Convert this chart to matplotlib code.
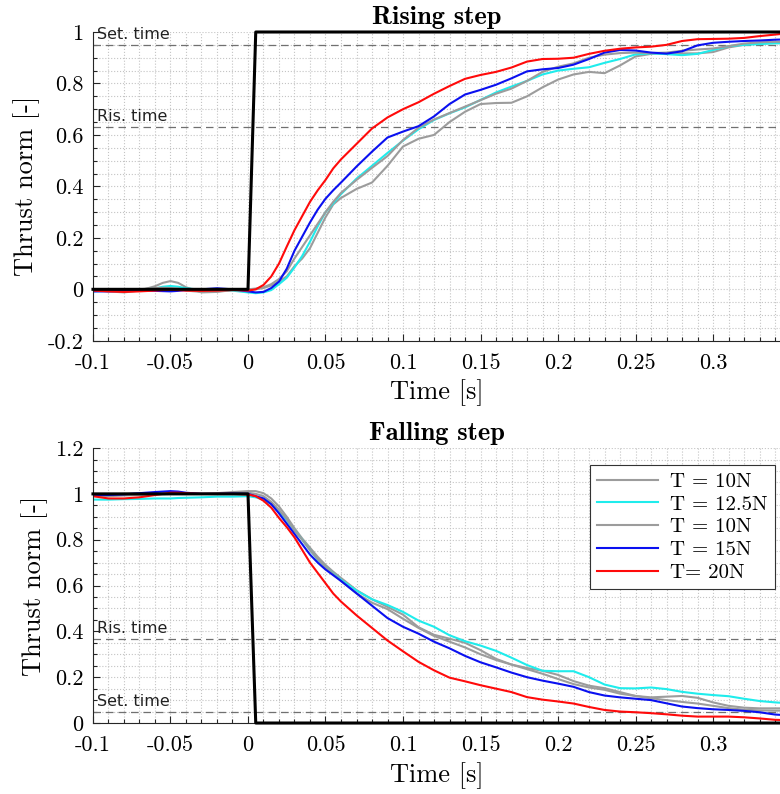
import matplotlib
matplotlib.use('Agg')
import matplotlib.pyplot as plt
from matplotlib.ticker import MultipleLocator

plt.rcParams['axes.unicode_minus'] = False

# Time base shared by all measured curves [s]
t = [-0.1, -0.09, -0.08, -0.07, -0.06, -0.055, -0.05, -0.045, -0.04, -0.03, -0.02, -0.01,
     0, 0.005, 0.01, 0.015, 0.02, 0.025, 0.03, 0.035, 0.04, 0.045, 0.05, 0.055, 0.06,
     0.07, 0.08, 0.09, 0.1, 0.11, 0.12, 0.13, 0.14, 0.15, 0.16, 0.17, 0.18, 0.19, 0.2,
     0.21, 0.22, 0.23, 0.24, 0.25, 0.26, 0.27, 0.28, 0.29, 0.3, 0.31, 0.32, 0.33, 0.34, 0.345]

# Commanded steps
step_t = [-0.1, 0, 0.005, 0.345]
rise_cmd = [0, 0, 1, 1]
fall_cmd = [1, 1, 0, 0]

# Rising step responses
rise_gray_a = [-0.003, -0.008, -0.012, -0.005, 0.012, 0.025, 0.032, 0.025, 0.008, -0.012, -0.01, -0.003,
               0.0, 0.0, 0.005, 0.015, 0.03, 0.05, 0.09, 0.12, 0.16, 0.22, 0.28, 0.33, 0.355,
               0.39, 0.415, 0.48, 0.555, 0.585, 0.6, 0.65, 0.69, 0.72, 0.724, 0.725, 0.75, 0.785, 0.815,
               0.835, 0.845, 0.84, 0.87, 0.905, 0.915, 0.917, 0.917, 0.917, 0.922, 0.94, 0.95, 0.956, 0.957, 0.957]
rise_cyan = [-0.008, -0.006, -0.004, -0.002, 0.003, 0.01, 0.013, 0.01, 0.004, -0.002, -0.004, -0.005,
             -0.012, -0.015, -0.012, -0.003, 0.02, 0.045, 0.085, 0.13, 0.185, 0.245, 0.3, 0.334, 0.37,
             0.43, 0.48, 0.53, 0.578, 0.622, 0.658, 0.684, 0.707, 0.736, 0.765, 0.788, 0.81, 0.835, 0.85,
             0.857, 0.863, 0.88, 0.895, 0.913, 0.917, 0.914, 0.91, 0.915, 0.93, 0.945, 0.95, 0.953, 0.956, 0.956]
rise_gray_b = [0.0, -0.003, -0.005, 0.0, 0.005, 0.006, 0.005, 0.003, -0.005, -0.01, -0.008, -0.003,
               0.0, 0.003, 0.008, 0.02, 0.04, 0.07, 0.12, 0.165, 0.21, 0.255, 0.3, 0.34, 0.375,
               0.425, 0.472, 0.518, 0.58, 0.628, 0.66, 0.685, 0.71, 0.735, 0.76, 0.78, 0.81, 0.845, 0.865,
               0.878, 0.9, 0.912, 0.918, 0.92, 0.918, 0.92, 0.927, 0.932, 0.936, 0.945, 0.955, 0.96, 0.962, 0.962]
rise_blue = [-0.008, -0.008, -0.006, -0.005, -0.006, -0.007, -0.008, -0.006, -0.003, 0.0, 0.004, 0.0,
             -0.008, -0.012, -0.01, 0.005, 0.03, 0.08, 0.15, 0.205, 0.26, 0.31, 0.352, 0.385, 0.415,
             0.477, 0.535, 0.59, 0.613, 0.634, 0.672, 0.72, 0.757, 0.775, 0.795, 0.82, 0.847, 0.855, 0.86,
             0.873, 0.895, 0.92, 0.93, 0.928, 0.92, 0.916, 0.925, 0.948, 0.958, 0.962, 0.965, 0.967, 0.97, 0.971]
rise_red = [-0.005, -0.008, -0.01, -0.008, -0.005, -0.003, -0.002, -0.003, -0.005, -0.006, -0.005, -0.003,
            -0.005, 0.0, 0.017, 0.05, 0.1, 0.166, 0.23, 0.285, 0.34, 0.385, 0.425, 0.47, 0.505,
            0.565, 0.625, 0.668, 0.7, 0.727, 0.76, 0.79, 0.818, 0.833, 0.845, 0.862, 0.885, 0.895, 0.896,
            0.9, 0.915, 0.927, 0.935, 0.94, 0.943, 0.95, 0.965, 0.972, 0.973, 0.974, 0.977, 0.984, 0.99, 0.993]

# Falling step responses
fall_gray_a = [0.995, 0.998, 1.0, 1.002, 1.0, 1.0, 1.0, 1.0, 1.0, 1.0, 1.003, 1.008,
               1.012, 1.012, 1.003, 0.98, 0.945, 0.9, 0.85, 0.805, 0.765, 0.725, 0.69, 0.66, 0.633,
               0.58, 0.54, 0.507, 0.473, 0.418, 0.385, 0.368, 0.35, 0.318, 0.28, 0.255, 0.24, 0.228, 0.21,
               0.183, 0.163, 0.152, 0.135, 0.118, 0.112, 0.115, 0.118, 0.11, 0.09, 0.075, 0.067, 0.064, 0.064, 0.064]
fall_cyan = [0.975, 0.975, 0.977, 0.978, 0.98, 0.98, 0.98, 0.982, 0.983, 0.985, 0.988, 0.988,
             0.99, 0.985, 0.975, 0.955, 0.925, 0.885, 0.84, 0.8, 0.755, 0.712, 0.68, 0.652, 0.625,
             0.578, 0.54, 0.515, 0.485, 0.447, 0.42, 0.383, 0.357, 0.338, 0.315, 0.285, 0.253, 0.228, 0.226,
             0.226, 0.2, 0.168, 0.152, 0.151, 0.155, 0.148, 0.136, 0.128, 0.122, 0.117, 0.106, 0.096, 0.09, 0.088]
fall_gray_b = [0.99, 0.99, 0.993, 0.995, 0.997, 0.998, 1.0, 1.0, 1.0, 1.0, 1.0, 1.003,
               1.005, 1.0, 0.99, 0.965, 0.93, 0.89, 0.84, 0.8, 0.755, 0.715, 0.68, 0.65, 0.62,
               0.566, 0.525, 0.497, 0.455, 0.415, 0.38, 0.355, 0.33, 0.3, 0.275, 0.255, 0.235, 0.215, 0.192,
               0.17, 0.155, 0.145, 0.128, 0.118, 0.108, 0.1, 0.092, 0.085, 0.075, 0.065, 0.058, 0.055, 0.054, 0.054]
fall_blue = [0.995, 0.995, 0.998, 1.003, 1.008, 1.01, 1.012, 1.01, 1.005, 1.0, 1.0, 1.002,
             1.0, 0.99, 0.98, 0.955, 0.915, 0.87, 0.825, 0.78, 0.735, 0.7, 0.67, 0.645, 0.62,
             0.566, 0.512, 0.458, 0.42, 0.39, 0.355, 0.326, 0.293, 0.265, 0.243, 0.22, 0.2, 0.185, 0.172,
             0.158, 0.135, 0.12, 0.112, 0.106, 0.1, 0.086, 0.072, 0.065, 0.06, 0.057, 0.053, 0.047, 0.037, 0.035]
fall_red = [0.99, 0.98, 0.98, 0.985, 0.995, 1.0, 1.005, 1.005, 1.003, 1.0, 1.0, 1.0,
            0.997, 0.99, 0.97, 0.94, 0.895, 0.855, 0.81, 0.755, 0.7, 0.655, 0.61, 0.565, 0.53,
            0.47, 0.415, 0.36, 0.313, 0.267, 0.23, 0.198, 0.182, 0.165, 0.15, 0.135, 0.113, 0.102, 0.094,
            0.085, 0.07, 0.057, 0.05, 0.047, 0.043, 0.038, 0.032, 0.028, 0.028, 0.028, 0.025, 0.02, 0.014, 0.013]

labels = ['T = 10N', 'T = 12.5N', 'T = 10N', 'T = 15N', 'T= 20N']
colors = ['#9c9c9c', '#1fecec', '#9c9c9c', '#0a10f0', '#ff0a0a']

xticks = [-0.1, -0.05, 0, 0.05, 0.1, 0.15, 0.2, 0.25, 0.3]
xtick_labels = ['-0.1', '-0.05', '0', '0.05', '0.1', '0.15', '0.2', '0.25', '0.3']
rise_yticks = [-0.2, 0, 0.2, 0.4, 0.6, 0.8, 1]
rise_ytick_labels = ['-0.2', '0', '0.2', '0.4', '0.6', '0.8', '1']
fall_yticks = [0, 0.2, 0.4, 0.6, 0.8, 1, 1.2]
fall_ytick_labels = ['0', '0.2', '0.4', '0.6', '0.8', '1', '1.2']

rise_levels = [0.95, 0.632]
fall_levels = [0.368, 0.05]
level_names = ['Set. time', 'Ris. time']

serif = 'cmr10'
bold = 'cmb10'

fig = plt.figure(figsize=(7.8, 7.94), dpi=100)
ax1 = fig.add_axes([0.1192, 0.5708, 0.8808, 0.3889])
ax2 = fig.add_axes([0.1192, 0.0894, 0.8808, 0.3463])


def style_axis(ax, yticks, ylabels, ylim, title):
    ax.set_xlim(-0.1, 0.3432)
    ax.set_ylim(*ylim)
    ax.set_xticks(xticks)
    ax.set_xticklabels(xtick_labels, family=serif, fontsize=16)
    ax.set_yticks(yticks)
    ax.set_yticklabels(ylabels, family=serif, fontsize=16)
    ax.xaxis.set_minor_locator(MultipleLocator(0.01))
    ax.yaxis.set_minor_locator(MultipleLocator(0.05))
    ax.tick_params(which='both', direction='in', color='#262626', width=0.8)
    ax.tick_params(which='major', length=5)
    ax.tick_params(axis='x', which='major', pad=9)
    ax.tick_params(axis='y', which='major', pad=7)
    ax.tick_params(which='minor', length=3)
    ax.grid(True, which='both', linestyle=':', color='#c4c4c4', linewidth=0.8)
    ax.set_axisbelow(True)
    for side in ['top', 'right']:
        ax.spines[side].set_visible(False)
    for side in ['left', 'bottom']:
        ax.spines[side].set_color('#262626')
        ax.spines[side].set_linewidth(0.8)
    ax.set_xlabel('Time [s]', family=serif, fontsize=19, labelpad=5)
    ax.set_ylabel('Thrust norm [-]', family=serif, fontsize=19, labelpad=5)
    ax.set_title(title, family=bold, fontsize=19, pad=6)


# Rising step
style_axis(ax1, rise_yticks, rise_ytick_labels, (-0.2, 1), 'Rising step')
for lvl, name in zip(rise_levels, level_names):
    ax1.axhline(lvl, color='#707070', linestyle=(0, (6, 4)), linewidth=0.9)
    ax1.annotate(name, xy=(-0.1, lvl), xytext=(3, 2), textcoords='offset points',
                 fontsize=11.5, ha='left', va='bottom', color='#222222')
rise_series = [rise_gray_a, rise_cyan, rise_gray_b, rise_blue, rise_red]
for y, c in zip(rise_series, colors):
    ax1.plot(t, y, color=c, linewidth=1.5)
ax1.plot(step_t, rise_cmd, color='black', linewidth=2.2, clip_on=False, zorder=5)

# Falling step
style_axis(ax2, fall_yticks, fall_ytick_labels, (0, 1.2), 'Falling step')
for lvl, name in zip(fall_levels, level_names[::-1]):
    ax2.axhline(lvl, color='#707070', linestyle=(0, (6, 4)), linewidth=0.9)
    ax2.annotate(name, xy=(-0.1, lvl), xytext=(3, 2), textcoords='offset points',
                 fontsize=11.5, ha='left', va='bottom', color='#222222')
fall_series = [fall_gray_a, fall_cyan, fall_gray_b, fall_blue, fall_red]
handles = []
for y, c, lab in zip(fall_series, colors, labels):
    h, = ax2.plot(t, y, color=c, linewidth=1.5, label=lab)
    handles.append(h)
ax2.plot(step_t, fall_cmd, color='black', linewidth=2.2, clip_on=False, zorder=5)

leg = ax2.legend(handles=handles, loc='upper right', bbox_to_anchor=(0.9927, 0.938),
                 borderaxespad=0, prop={'family': serif, 'size': 15}, handlelength=2.9,
                 labelspacing=0.2, fancybox=False, framealpha=1, edgecolor='#333333',
                 borderpad=0.35, handletextpad=0.6)
leg.get_frame().set_linewidth(0.8)

plt.savefig('out.png', dpi=100)
